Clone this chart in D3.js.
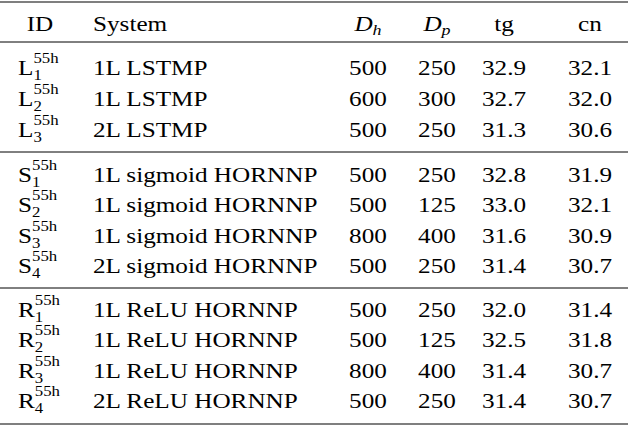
<!DOCTYPE html>
<html><head><meta charset="utf-8">
<script src="https://cdn.jsdelivr.net/npm/d3@7"></script>
<style>body{margin:0;background:#fff}text{font-family:"Liberation Serif","Times New Roman",serif;fill:#000}</style>
</head><body><svg id="c" width="628" height="426"></svg>
<script>
const ids = ["L1","L2","L3","S1","S2","S3","S4","R1","R2","R3","R4"];
const systems = ["1L LSTMP","1L LSTMP","2L LSTMP","1L sigmoid HORNNP","1L sigmoid HORNNP","1L sigmoid HORNNP","2L sigmoid HORNNP","1L ReLU HORNNP","1L ReLU HORNNP","1L ReLU HORNNP","2L ReLU HORNNP"];
const dh = [500,600,500,500,500,800,500,500,500,800,500];
const dp = [250,300,250,250,125,400,250,250,125,400,250];
const tg = [32.9,32.7,31.3,32.8,33.0,31.6,31.4,32.0,32.5,31.4,31.4];
const cn = [32.1,32.0,30.6,31.9,32.1,30.9,30.7,31.4,31.8,30.7,30.7];
const rowY = [68,99,130,175,205,236,266,310,340,371,401];
const rules = [[2,1.2],[42,1],[152,1],[288,1],[424,1.2]];
const svg = d3.select("#c");
const fs = 21, sx = 1.2;
rules.forEach(([y,w])=>svg.append("line").attr("x1",0).attr("x2",628).attr("y1",y).attr("y2",y).attr("stroke","#000").attr("stroke-width",w));
const g = svg.append("g").attr("transform",`scale(${sx},1)`);
const X = x => x/sx;
const hy = 31;
g.append("text").attr("x",X(40)).attr("y",hy).attr("text-anchor","middle").attr("font-size",fs).text("ID");
g.append("text").attr("x",X(93)).attr("y",hy).attr("font-size",fs).text("System");
[["D","h",368],["D","p",437]].forEach(([a,b,x])=>{
  const t=g.append("text").attr("x",X(x)).attr("y",hy).attr("text-anchor","middle").attr("font-size",fs).attr("font-style","italic");
  t.append("tspan").text(a); t.append("tspan").attr("font-size",15).attr("dy",4).text(b);
});
g.append("text").attr("x",X(504)).attr("y",hy).attr("text-anchor","middle").attr("font-size",fs).text("tg");
g.append("text").attr("x",X(590)).attr("y",hy).attr("text-anchor","middle").attr("font-size",fs).text("cn");
ids.forEach((id,i)=>{
  const y=rowY[i]+7;
  const t=g.append("text").attr("x",X(18)).attr("y",y).attr("font-size",fs);
  t.append("tspan").text(id[0]);
  t.append("tspan").attr("font-size",14).attr("dy",5).text(id[1]);
  t.append("tspan").attr("font-size",14).attr("dx",-7).attr("dy",-17).text("55h");
  g.append("text").attr("x",X(93)).attr("y",y).attr("font-size",fs).text(systems[i]);
  [[dh[i],368],[dp[i],437],[tg[i].toFixed(1),504],[cn[i].toFixed(1),590]].forEach(([v,x])=>
    g.append("text").attr("x",X(x)).attr("y",y).attr("text-anchor","middle").attr("font-size",fs).text(v));
});
</script></body></html>
